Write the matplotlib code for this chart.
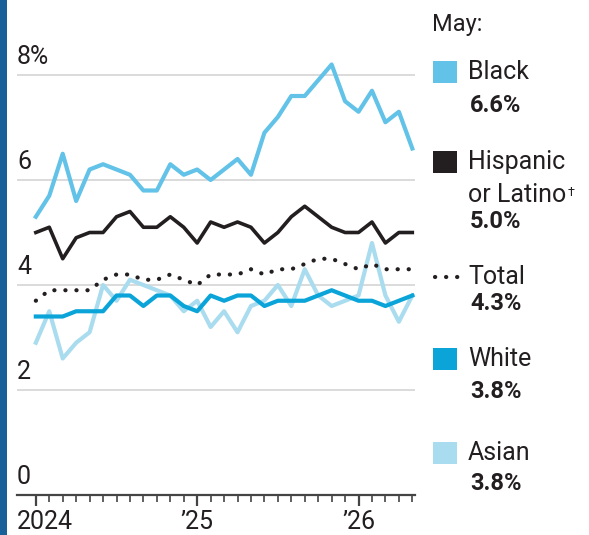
import matplotlib
matplotlib.use("Agg")
import matplotlib.pyplot as plt
from matplotlib.patches import Rectangle
from matplotlib.lines import Line2D

plt.rcParams['font.family'] = ['Roboto', 'DejaVu Sans']

# monthly unemployment rates, Jan 2024 .. May 2026
months = list(range(29))
black = [5.3, 5.7, 6.5, 5.6, 6.2, 6.3, 6.2, 6.1, 5.8, 5.8, 6.3, 6.1, 6.2, 6.0, 6.2,
         6.4, 6.1, 6.9, 7.2, 7.6, 7.6, 7.9, 8.2, 7.5, 7.3, 7.7, 7.1, 7.3, 6.6]
hispanic = [5.0, 5.1, 4.5, 4.9, 5.0, 5.0, 5.3, 5.4, 5.1, 5.1, 5.3, 5.1, 4.8, 5.2, 5.1,
            5.2, 5.1, 4.8, 5.0, 5.3, 5.5, 5.3, 5.1, 5.0, 5.0, 5.2, 4.8, 5.0, 5.0]
total = [3.7, 3.9, 3.9, 3.9, 3.9, 4.1, 4.2, 4.2, 4.1, 4.1, 4.2, 4.1, 4.0, 4.2, 4.2,
         4.2, 4.3, 4.2, 4.3, 4.3, 4.4, 4.5, 4.5, 4.4, 4.3, 4.4, 4.3, 4.3, 4.3]
white = [3.4, 3.4, 3.4, 3.5, 3.5, 3.5, 3.8, 3.8, 3.6, 3.8, 3.8, 3.6, 3.5, 3.8, 3.7,
         3.8, 3.8, 3.6, 3.7, 3.7, 3.7, 3.8, 3.9, 3.8, 3.7, 3.7, 3.6, 3.7, 3.8]
asian = [2.9, 3.5, 2.6, 2.9, 3.1, 4.0, 3.7, 4.1, 4.0, 3.9, 3.8, 3.5, 3.7, 3.2, 3.5,
         3.1, 3.6, 3.7, 4.0, 3.6, 4.3, 3.8, 3.6, 3.7, 3.8, 4.8, 3.8, 3.3, 3.8]

year_ticks = [0, 12, 24]
year_labels = ['2024', "\u201925", "\u201926"]
y_ticks = [0, 2, 4, 6, 8]
y_labels = ['0', '2', '4', '6', '8%']

legend_names = [['Black'], ['Hispanic', 'or Latino'], ['Total'], ['White'], ['Asian']]
legend_values = ['6.6%', '5.0%', '4.3%', '3.8%', '3.8%']

c_black = '#62c2e8'
c_hisp = '#231f20'
c_white = '#0aa4d8'
c_asian = '#aadcef'
txt = '#231f20'
dots = (0, (0.05, 2.6))

W, H = 589, 535
fig = plt.figure(figsize=(W / 100, H / 100), dpi=100)
ax = fig.add_axes([17 / W, 1 - 495 / H, 398 / W, 8.4 * 52.5 / H])

for v in y_ticks[1:]:
    ax.axhline(v, color='#d8d8d8', lw=1.3, zorder=0)

ax.plot(months, asian, color=c_asian, lw=3.0, zorder=2)
ax.plot(months, white, color=c_white, lw=3.0, zorder=3)
ax.plot(months, total, color='#231f20', lw=3.0, linestyle=dots,
        dash_capstyle='round', zorder=4)
ax.plot(months, hispanic, color=c_hisp, lw=2.6, zorder=4)
ax.plot(months, black, color=c_black, lw=3.0, zorder=5)

ax.set_xlim(-1.4, 28.2)
ax.set_ylim(0, 8.4)

for s in ['top', 'right', 'left']:
    ax.spines[s].set_visible(False)
ax.spines['bottom'].set_color('#444444')
ax.spines['bottom'].set_linewidth(1.6)

ax.set_yticks([])
for v, lab in zip(y_ticks, y_labels):
    ax.text(-1.4, v + 0.12, lab, fontsize=18, color=txt, ha='left', va='bottom')

ax.set_xticks(year_ticks)
ax.set_xticklabels([])
ax.set_xticks(months, minor=True)
ax.tick_params(axis='x', which='major', length=8, width=1.6, color='#444444')
ax.tick_params(axis='x', which='minor', length=5, width=1.2, color='#444444')
for m, lab in zip(year_ticks, year_labels):
    x = m - 1.4 if m == 0 else m
    ax.text(x, -0.28, lab, fontsize=18, color=txt, ha='left' if m == 0 else 'center',
            va='top', clip_on=False)

# left border strip
fig.add_artist(Rectangle((0, 0), 7 / W, 1, transform=fig.transFigure,
                         color='#195f98', lw=0))

# legend at the right
def fy(y):
    return 1 - y / H

renderer = fig.canvas.get_renderer()
fig.text(432 / W, fy(25), 'May:', fontsize=17, color=txt, va='center', ha='left')
swatch_cols = [c_black, c_hisp, None, c_white, c_asian]
name_y = [72, 162, 277, 359, 453]
val_y = [106, 221, 304, 392, 483]
for names, val, col, ny, vy in zip(legend_names, legend_values, swatch_cols, name_y, val_y):
    if col is not None:
        fig.add_artist(Rectangle((433 / W, fy(ny + 11)), 24 / W, 22 / H,
                                 transform=fig.transFigure, color=col, lw=0))
    else:
        fig.add_artist(Line2D([435 / W, 458 / W], [fy(ny), fy(ny)],
                              transform=fig.transFigure, color='#231f20', lw=3.0,
                              linestyle=dots, dash_capstyle='round'))
    for k, name in enumerate(names):
        t = fig.text(468 / W, fy(ny + 33 * k), name, fontsize=18, color=txt,
                     va='center', ha='left')
    if len(names) > 1:
        bb = t.get_window_extent(renderer)
        fig.text((bb.x1 + 1) / W, (bb.y1 - 3) / H, '\u2020', fontsize=9,
                 color=txt, va='top', ha='left')
    fig.text(470 / W, fy(vy), val, fontsize=17, color=txt, va='center', ha='left',
             fontweight='bold')

fig.savefig('out.png', dpi=100)
